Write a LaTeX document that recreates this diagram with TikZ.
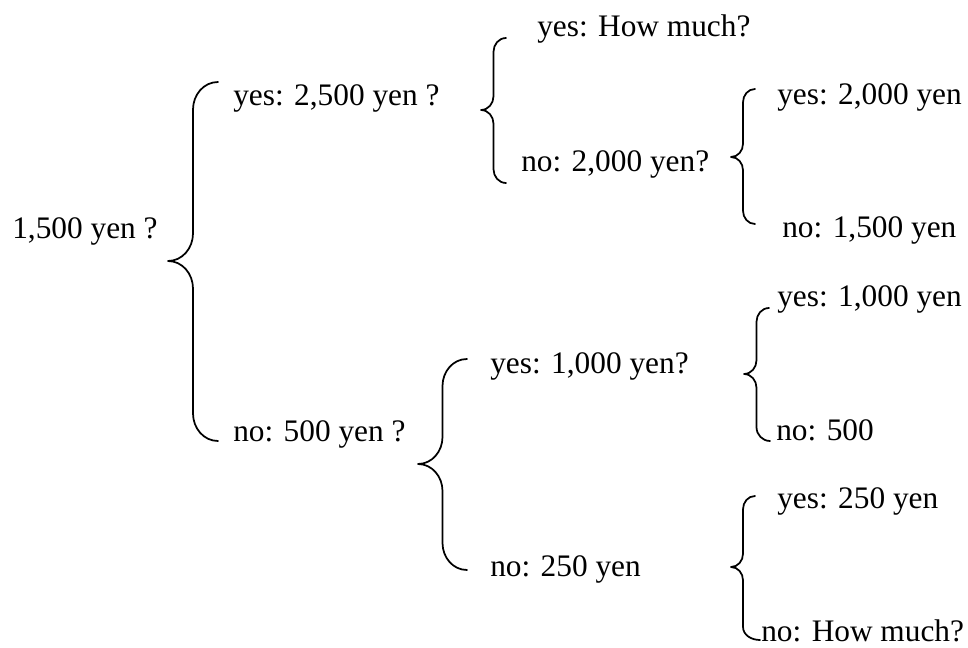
\documentclass[tikz,border=0pt]{standalone}
\usepackage{fontspec}
\setmainfont{Liberation Serif}
\usetikzlibrary{calc}

\tikzset{
  answer/.style={anchor=base west, inner sep=0pt,
    font=\fontsize{23.5}{28}\selectfont},
  curlyline/.style={line width=1.3pt, line cap=round, line join=round}
}

% curly brace from top end, through tip, to bottom end
\newcommand{\curly}[3]{%
  \draw[curlyline] let \p1=(#1), \p2=(#2), \p3=(#3),
      \n1={0.5*(\x1+\x2)}, \n2={0.55*(\x1-\x2)} in
    (\p1) to[out=180,in=90] (\n1,{\y1-\n2})
    -- (\n1,{\y2+\n2}) to[out=270,in=0] (\p2)
    to[out=0,in=90] (\n1,{\y2-\n2})
    -- (\n1,{\y3+\n2}) to[out=270,in=180] (\p3);
}

\begin{document}
\begin{tikzpicture}[x=0.75pt,y=-0.75pt]
  \useasboundingbox (0,0) rectangle (968,648);
  \path
    (12,239) node[answer] (root){1,500 yen ?}
    (233,106) node[answer] (yes2500){yes: 2,500 yen ?}
    (233,442) node[answer] (no500){no: 500 yen ?}
    (537,37) node[answer] (yeshow){yes: How much?}
    (521,172) node[answer] (no2000){no: 2,000 yen?}
    (777,105) node[answer] (yes2000){yes: 2,000 yen}
    (782,238) node[answer] (no1500){no: 1,500 yen}
    (490,374) node[answer] (yes1000q){yes: 1,000 yen?}
    (490,576) node[answer] (no250){no: 250 yen}
    (777,307) node[answer] (yes1000){yes: 1,000 yen}
    (776,441) node[answer] (no500b){no: 500}
    (777,509) node[answer] (yes250){yes: 250 yen}
    (761,641) node[answer] (nohow){no: How much?};
  \coordinate (b1top) at (218,82);
  \coordinate (b1tip) at (168,261);
  \coordinate (b1bot) at (218,441);
  \coordinate (b2top) at (506,38);
  \coordinate (b2tip) at (481,110);
  \coordinate (b2bot) at (506,183);
  \coordinate (b3top) at (755,89);
  \coordinate (b3tip) at (731,157);
  \coordinate (b3bot) at (755,224);
  \coordinate (b4top) at (467,359);
  \coordinate (b4tip) at (418,464);
  \coordinate (b4bot) at (467,570);
  \coordinate (b5top) at (769,308);
  \coordinate (b5tip) at (744,374);
  \coordinate (b5bot) at (770,441);
  \coordinate (b6top) at (755,496);
  \coordinate (b6tip) at (731,567);
  \coordinate (b6bot) at (760,640);
  \curly{b1top}{b1tip}{b1bot}
  \curly{b2top}{b2tip}{b2bot}
  \curly{b3top}{b3tip}{b3bot}
  \curly{b4top}{b4tip}{b4bot}
  \curly{b5top}{b5tip}{b5bot}
  \curly{b6top}{b6tip}{b6bot}
\end{tikzpicture}
\end{document}
